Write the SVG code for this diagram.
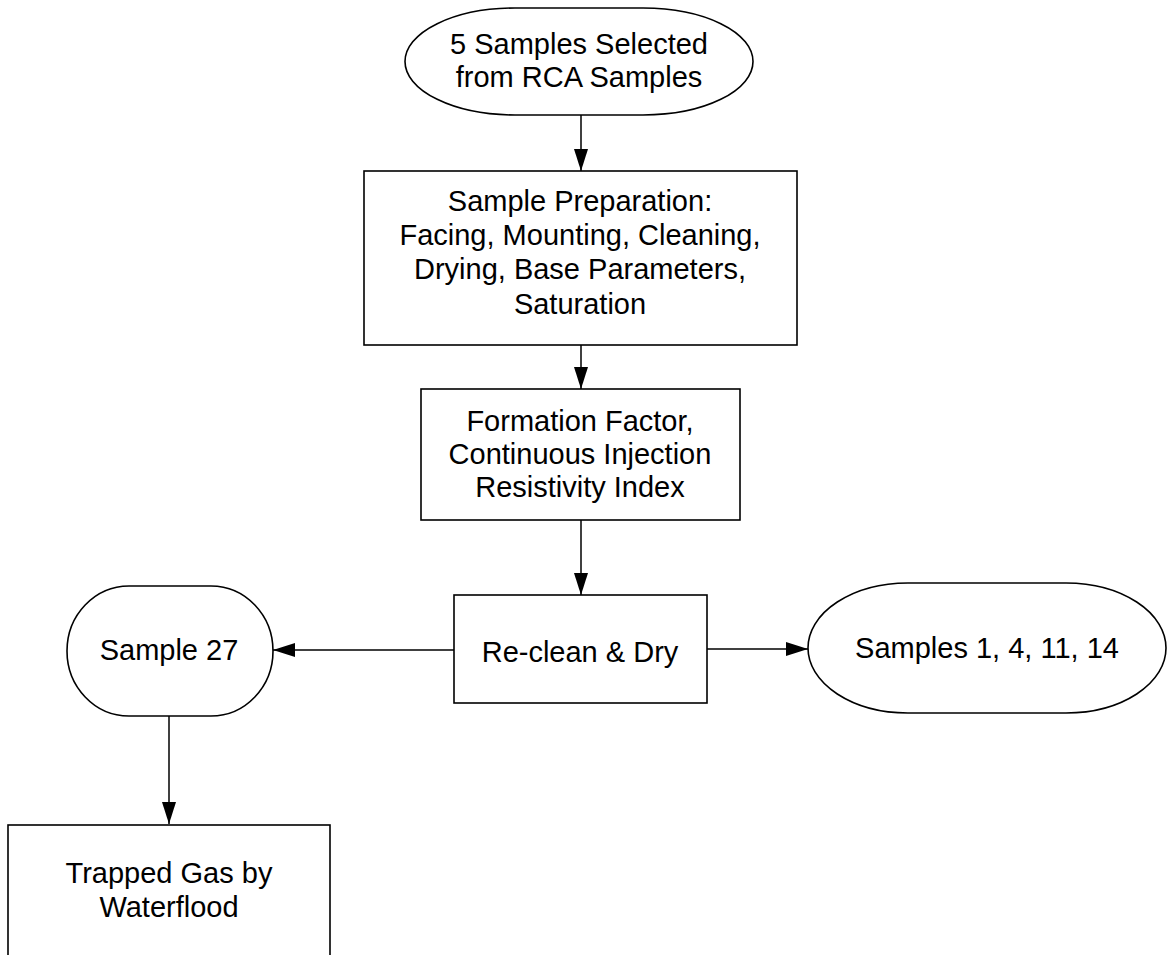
<svg xmlns="http://www.w3.org/2000/svg" width="1168" height="955" viewBox="0 0 1168 955">
<style>
.shape{fill:#fff;stroke:#000;stroke-width:1.6}
.txt{font-family:"Liberation Sans",Arial,sans-serif;font-size:29px;fill:#000;text-anchor:middle}
.conn{stroke:#000;stroke-width:1.5;fill:none}
</style>
<defs>
<marker id="ah" viewBox="0 0 22 14" refX="22" refY="7" markerWidth="22" markerHeight="14" markerUnits="userSpaceOnUse" orient="auto">
<path d="M0,0 L22,7 L0,14 Z" fill="#000"/>
</marker>
</defs>
<rect width="1168" height="955" fill="#fff"/>
<g id="connectors">
<line class="conn" x1="581" y1="115" x2="581" y2="171" marker-end="url(#ah)"/>
<line class="conn" x1="581" y1="345" x2="581" y2="389" marker-end="url(#ah)"/>
<line class="conn" x1="581" y1="520" x2="581" y2="595" marker-end="url(#ah)"/>
<line class="conn" x1="454" y1="650" x2="273" y2="650" marker-end="url(#ah)"/>
<line class="conn" x1="707" y1="649" x2="808" y2="649" marker-end="url(#ah)"/>
<line class="conn" x1="169" y1="716" x2="169" y2="824" marker-end="url(#ah)"/>
</g>
<g id="n_start">
<rect class="shape" x="405" y="8" width="348" height="107" rx="110" ry="53.5"/>
<text class="txt" x="579" y="54">5 Samples Selected</text>
<text class="txt" x="579" y="87">from RCA Samples</text>
</g>
<g id="n_prep">
<rect class="shape" x="364" y="171" width="433" height="174"/>
<text class="txt" x="580" y="211">Sample Preparation:</text>
<text class="txt" x="580" y="245">Facing, Mounting, Cleaning,</text>
<text class="txt" x="580" y="279">Drying, Base Parameters,</text>
<text class="txt" x="580" y="314">Saturation</text>
</g>
<g id="n_ff">
<rect class="shape" x="421" y="389" width="319" height="131"/>
<text class="txt" x="580" y="431">Formation Factor,</text>
<text class="txt" x="580" y="464">Continuous Injection</text>
<text class="txt" x="580" y="497">Resistivity Index</text>
</g>
<g id="n_reclean">
<rect class="shape" x="454" y="595" width="253" height="108"/>
<text class="txt" x="580" y="662">Re-clean &amp; Dry</text>
</g>
<g id="n_s27">
<rect class="shape" x="67" y="586" width="206" height="130" rx="62" ry="65"/>
<text class="txt" x="169" y="660">Sample 27</text>
</g>
<g id="n_s1">
<rect class="shape" x="808" y="583" width="358" height="130" rx="100" ry="65"/>
<text class="txt" x="987" y="658">Samples 1, 4, 11, 14</text>
</g>
<g id="n_trapped">
<rect class="shape" x="8" y="825" width="322" height="140"/>
<text class="txt" x="169" y="883">Trapped Gas by</text>
<text class="txt" x="169" y="917">Waterflood</text>
</g>
</svg>
